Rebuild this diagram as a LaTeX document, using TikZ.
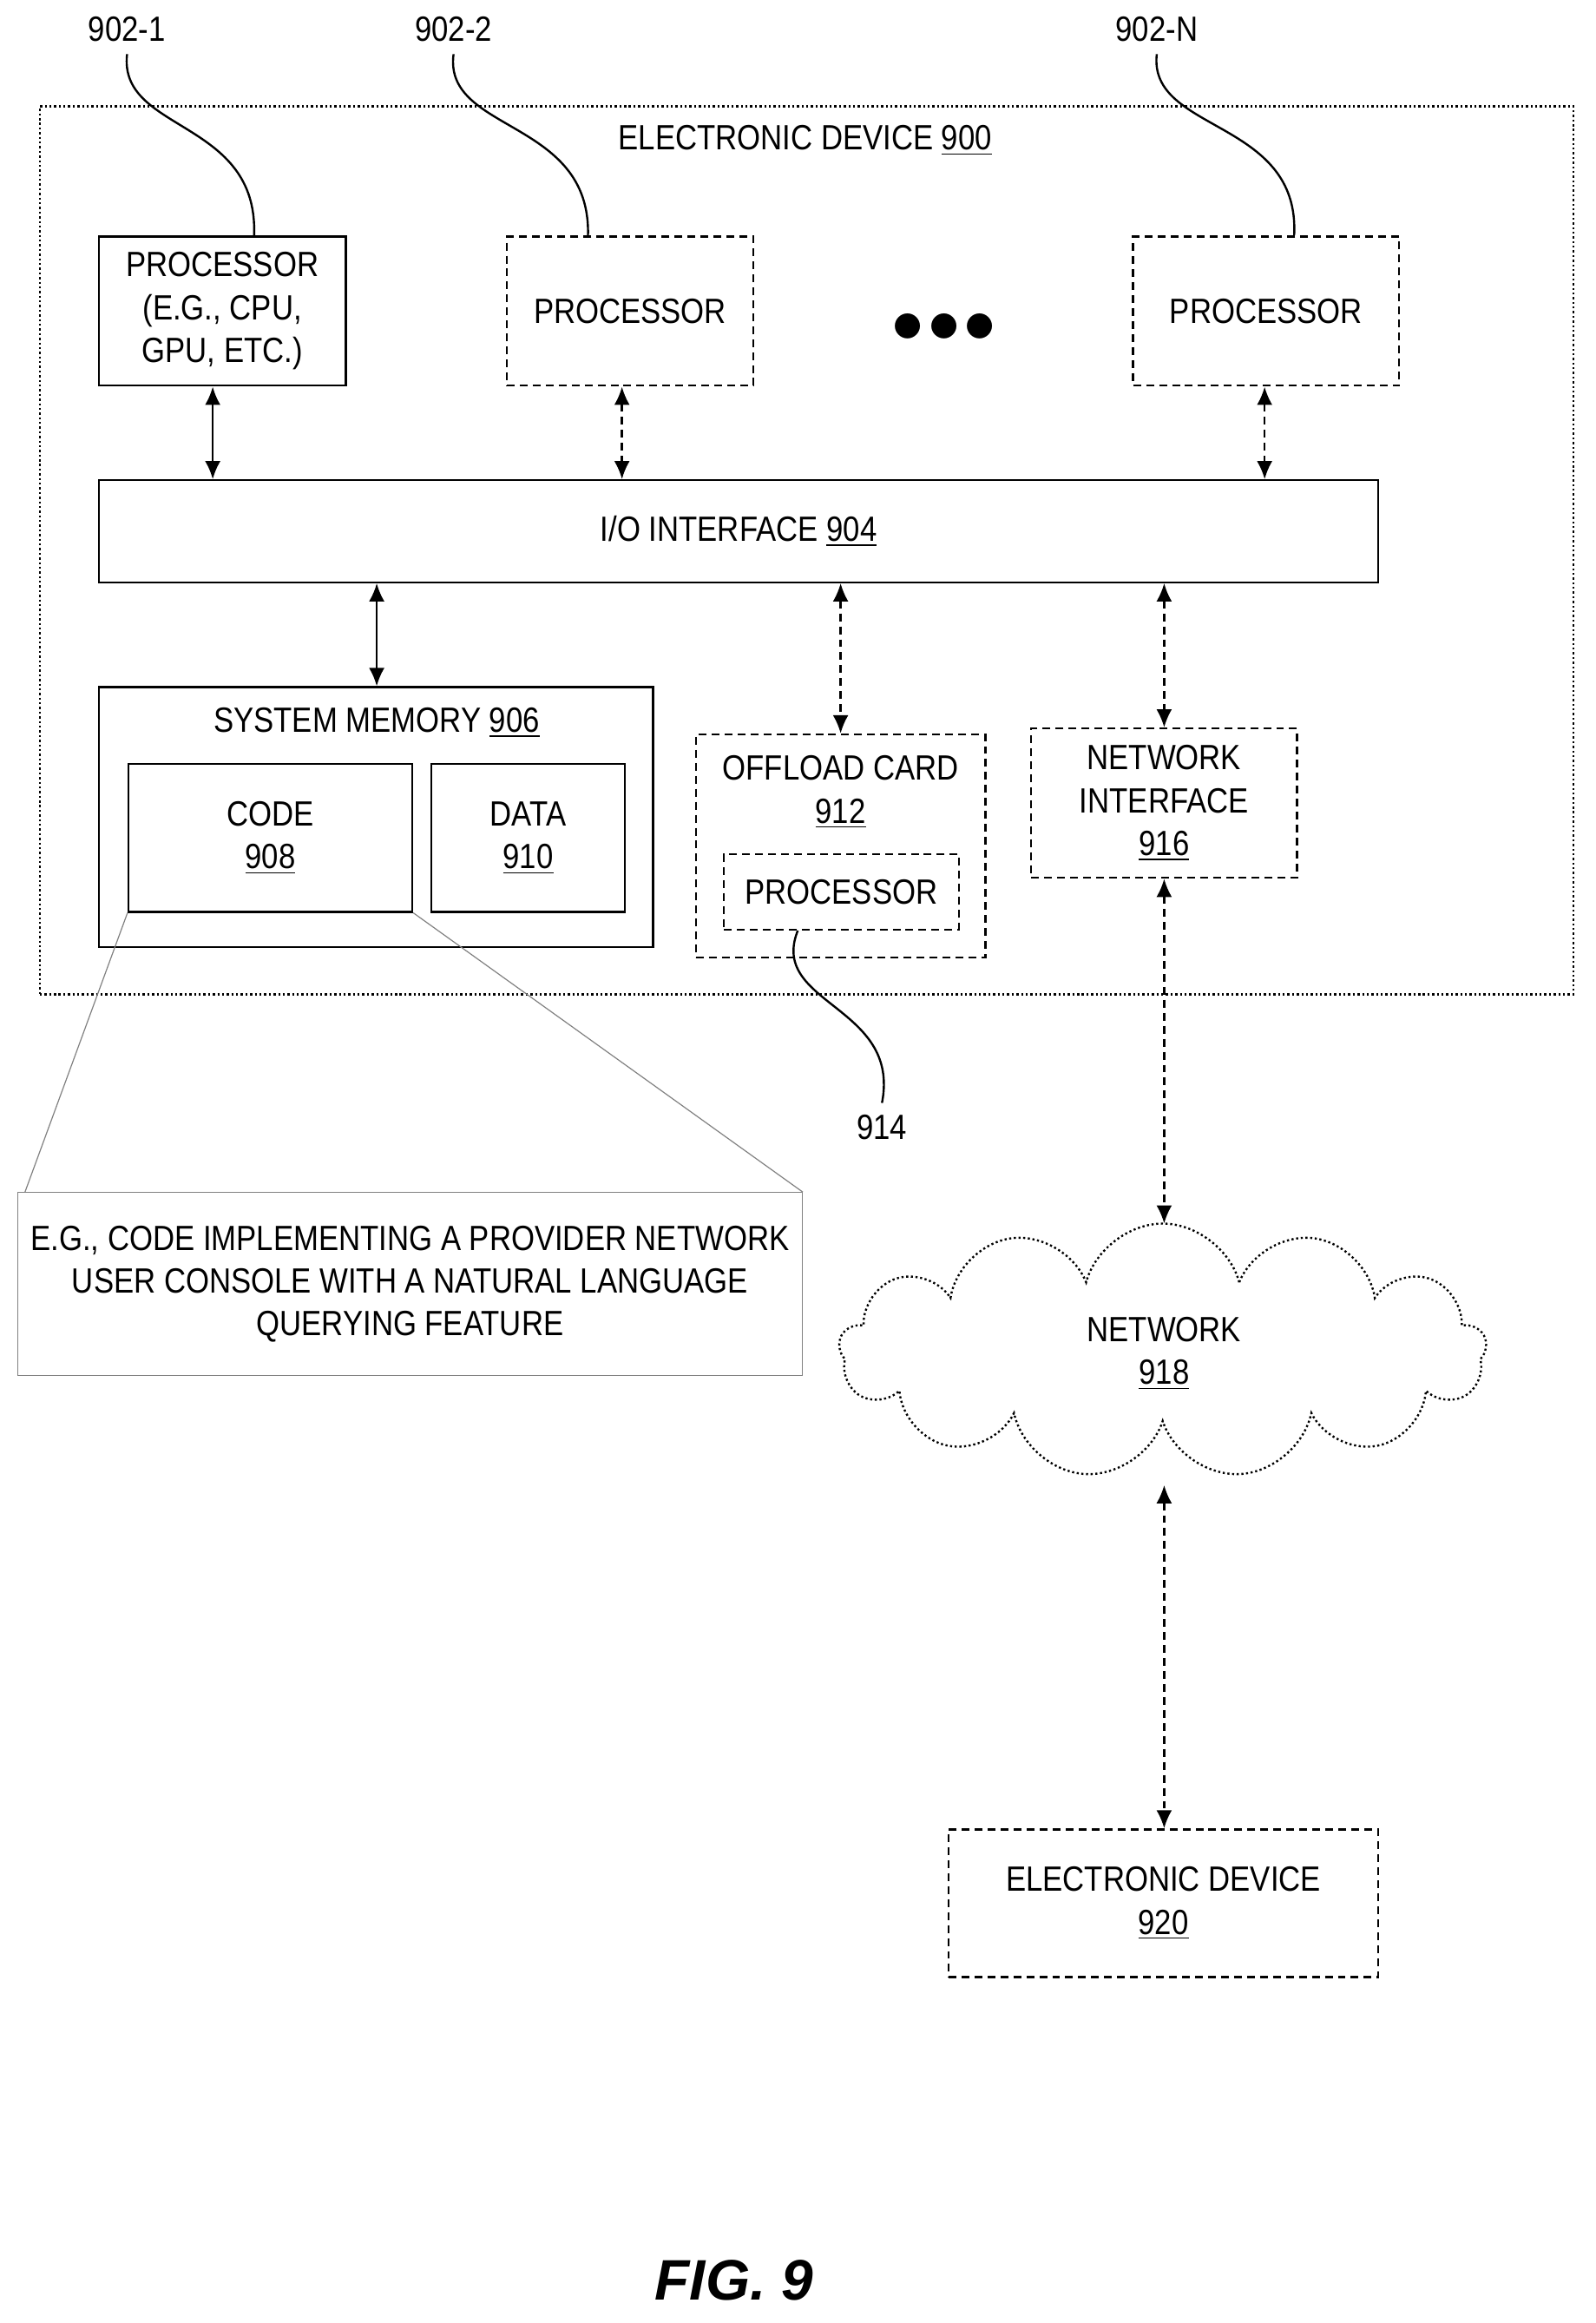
\documentclass[tikz,border=0pt]{standalone}
\usepackage{fontspec}
\setmainfont{Liberation Sans}[FakeStretch=0.86]
\newfontfamily\figfont{Liberation Sans}
\usetikzlibrary{arrows.meta,positioning,shapes.symbols}
\def\u{0.02cm}
\begin{document}
\fontsize{13.5}{16.5}\selectfont
\begin{tikzpicture}[x=0.02cm,y=-0.02cm,
	box/.style={draw,thick,inner sep=0,align=center},
	dbox/.style={draw,thick,densely dashed,inner sep=0,align=center},
	bi/.style={{Latex[length=7pt,width=6pt]}-{Latex[length=7pt,width=6pt]},thick},
	dbi/.style={bi,densely dashed},
	lead/.style={thick}]
	\useasboundingbox (0,0) rectangle (1080,1572);
	% device frame
	\node[dbox,densely dotted,minimum width={1038*\u},minimum height={601*\u}] (dev) at (546,372.5) {};
	\node (devlbl) at (545,95) {ELECTRONIC DEVICE \underline{900}};
	% processors
	\node[box,minimum width={167*\u},minimum height={101*\u}] (p1) at (150.5,210.5) {PROCESSOR\\(E.G., CPU,\\GPU, ETC.)};
	\node[dbox,minimum width={167*\u},minimum height={101*\u}] (p2) at (426.5,210.5) {PROCESSOR};
	\node[dbox,minimum width={180*\u},minimum height={101*\u}] (pn) at (857,210.5) {PROCESSOR};
	\node[font=\Huge] (dots) at (639,222) {$\bullet\!\bullet\!\bullet$};
	\node[box,minimum width={866*\u},minimum height={69*\u}] (io) at (500,359.5) {I/O INTERFACE \underline{904}};
	% memory
	\node[box,minimum width={375*\u},minimum height={176*\u}] (mem) at (254.5,553) {};
	\node (memlbl) at (255,489) {SYSTEM MEMORY \underline{906}};
	\node[box,minimum width={192*\u},minimum height={100*\u}] (code) at (183,567) {CODE\\\underline{908}};
	\node[box,minimum width={131*\u},minimum height={100*\u}] (data) at (357.5,567) {DATA\\\underline{910}};
	% offload card
	\node[dbox,minimum width={196*\u},minimum height={151*\u}] (off) at (569,572.5) {};
	\node[align=center] (offlbl) at (569,536) {OFFLOAD CARD\\\underline{912}};
	\node[dbox,minimum width={159*\u},minimum height={51*\u}] (op) at (569.5,603.5) {PROCESSOR};
	\node[dbox,minimum width={180*\u},minimum height={101*\u}] (ni) at (788,543.5) {NETWORK\\INTERFACE\\\underline{916}};
	% network and remote device
	\node[cloud,draw,thick,densely dotted,cloud puffs=13,aspect=2.5,minimum width={438*\u},minimum height={172*\u}] (net) at (787,914) {};
	\node[align=center] (netlbl) at (788,916) {NETWORK\\\underline{918}};
	\node[dbox,minimum width={291*\u},minimum height={100*\u}] (ed) at (787.5,1288) {ELECTRONIC DEVICE\\\underline{920}};
	% callout
	\node[draw=gray,inner sep=0,align=center,minimum width={531*\u},minimum height={124*\u}] (note) at (277.5,869) {E.G., CODE IMPLEMENTING A PROVIDER NETWORK\\USER CONSOLE WITH A NATURAL LANGUAGE\\QUERYING FEATURE};
	\draw[gray] (code.south west) -- ([xshift=3pt]note.north west);
	\draw[gray] (code.south east) -- (note.north east);
	% arrows
	\draw[bi] (p1.south-|144,0) -- (io.north-|144,0);
	\draw[dbi] (p2.south-|421,0) -- (io.north-|421,0);
	\draw[dbi] (pn.south-|856,0) -- (io.north-|856,0);
	\draw[bi] (io.south-|255,0) -- (mem.north-|255,0);
	\draw[dbi] (io.south-|569,0) -- (off.north-|569,0);
	\draw[dbi] (io.south-|788,0) -- (ni.north-|788,0);
	\draw[dbi] (ni.south-|788,0) -- (788,828);
	\draw[dbi] (788,1005) -- (ed.north-|788,0);
	% reference labels
	\node (r1) at (86,20) {902-1};
	\node (r2) at (307,20) {902-2};
	\node (rn) at (783,20) {902-N};
	\node (r4) at (597,763) {914};
	\draw[lead] (r1.south) .. controls (80,90) and (175,80) .. (p1.north-|172,0);
	\draw[lead] (r2.south) .. controls (300,90) and (400,80) .. (p2.north-|398,0);
	\draw[lead] (rn.south) .. controls (777,90) and (880,80) .. (pn.north-|876,0);
	\draw[lead] (op.south-|540,0) .. controls (520,680) and (610,680) .. (r4.north);
	\node[font=\figfont\fontsize{22}{26}\selectfont\bfseries\itshape] (fig) at (497,1543) {FIG. 9};
\end{tikzpicture}
\end{document}
